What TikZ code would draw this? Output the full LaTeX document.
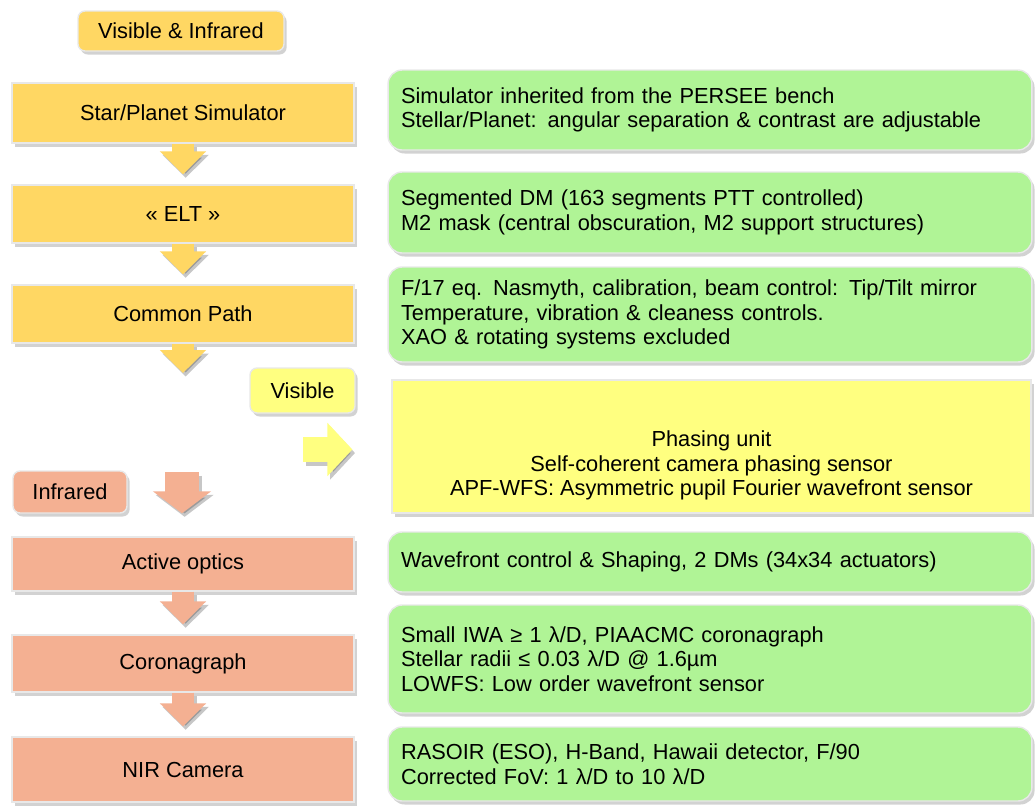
\documentclass[tikz,border=0pt]{standalone}
\usepackage{fontspec}
\setmainfont{Liberation Sans}
\usetikzlibrary{shadows,arrows.meta}
\definecolor{goldbox}{HTML}{FFD763}
\definecolor{salmonbox}{HTML}{F4B092}
\definecolor{greenbox}{HTML}{B0F496}
\definecolor{lemonbox}{HTML}{FFFF80}
\tikzset{
  boxbase/.style={draw=black!9, line width=0.8pt, inner sep=0pt,
    drop shadow={shadow xshift=1.5pt, shadow yshift=-2pt, opacity=0.35},
    font=\fontsize{12.4}{14}\selectfont},
  stage/.style={boxbase, fill=#1, minimum width=6.84cm, align=center},
  tag/.style={boxbase, fill=#1, rounded corners=4pt, align=center},
  info/.style={boxbase, fill=greenbox, rounded corners=8pt,
    text width=12.36cm, inner xsep=0.26cm, align=left},
  downarrow/.style={draw=#1, line width=0.46cm,
    -{Triangle[width=0.9cm,length=0.46cm]}, shorten >=0.2cm},
  arrowshadow/.style={draw=black, opacity=0.22,
    transform canvas={shift={(1.5pt,-2pt)}}}
}
\begin{document}
\begin{tikzpicture}[x=0.02cm,y=-0.02cm]
\fill[white] (0,0) rectangle (1035,806);
\useasboundingbox (0,0) rectangle (1035,806);

% left column
\node[tag=goldbox, minimum width=4.12cm, minimum height=0.8cm] (both) at (181,31) {Visible \& Infrared};
\node[stage=goldbox, minimum height=1.2cm] (sim) at (183,113) {Star/Planet Simulator};
\node[stage=goldbox, minimum height=1.16cm] (elt) at (183,214) {«~ELT~»};
\node[stage=goldbox, minimum height=1.16cm] (common) at (183,314) {Common Path};
\node[tag=lemonbox, minimum width=2.1cm, minimum height=0.9cm] (vis) at (302.5,390.5) {Visible};
\node[tag=salmonbox, minimum width=2.28cm, minimum height=0.84cm] (ir) at (70,492) {Infrared};
\node[stage=salmonbox, minimum height=1.08cm] (active) at (183,564) {Active optics};
\node[stage=salmonbox, minimum height=1.14cm] (corono) at (183,663.5) {Coronagraph};
\node[stage=salmonbox, minimum height=1.3cm] (nir) at (183,769.5) {NIR Camera};

% right column
\node[info, minimum height=1.6cm] (dsim) at (710,110)
  {Simulator inherited from the PERSEE bench\\
   Stellar/Planet: angular separation \& contrast are adjustable};
\node[info, minimum height=1.62cm] (delt) at (710,212.5)
  {Segmented DM (163 segments PTT controlled)\\
   M2 mask (central obscuration, M2 support structures)};
\node[info, minimum height=1.9cm] (dcommon) at (710,314.5)
  {F/17 eq. Nasmyth, calibration, beam control: Tip/Tilt mirror\\
   Temperature, vibration \& cleaness controls.\\
   XAO \& rotating systems excluded};
\node[boxbase, fill=lemonbox, minimum width=12.78cm, minimum height=2.66cm] (phase) at (711.5,446.5) {};
\node[font=\fontsize{12.4}{14}\selectfont, align=center] (phasetext) at ([yshift=-0.38cm]phase.center)
  {Phasing unit\\
   Self-coherent camera phasing sensor\\
   APF-WFS: Asymmetric pupil Fourier wavefront sensor};
\node[info, minimum height=1.2cm] (dactive) at (710,562)
  {Wavefront control \& Shaping, 2 DMs (34x34 actuators)};
\node[info, minimum height=2.16cm] (dcorono) at (710,659)
  {Small IWA ≥ 1 λ/D, PIAACMC coronagraph\\
   Stellar radii ≤ 0.03 λ/D @ 1.6µm\\
   LOWFS: Low order wavefront sensor};
\node[info, minimum height=1.48cm] (dnir) at (710,764)
  {RASOIR (ESO), H-Band, Hawaii detector, F/90\\
   Corrected FoV: 1 λ/D to 10 λ/D};

% block arrows
\coordinate (vstart) at (303,449.5);
\coordinate (irstart) at (182,472);
\coordinate (cend) at (183,373);
\foreach \a/\b/\c in {sim/elt/goldbox, elt/common/goldbox, active/corono/salmonbox, corono/nir/salmonbox}{
  \draw[downarrow=\c, arrowshadow] (\a.south) -- (\b.north);
  \draw[downarrow=\c] (\a.south) -- (\b.north);
}
\draw[downarrow=goldbox, arrowshadow, shorten >=0pt] (common.south) -- (cend);
\draw[downarrow=goldbox, shorten >=0pt] (common.south) -- (cend);
\draw[downarrow=lemonbox, arrowshadow, line width=0.5cm,
  -{Triangle[width=1.04cm,length=0.5cm]}, shorten >=0.78cm] (vstart) -- (vstart -| phase.west);
\draw[downarrow=lemonbox, line width=0.5cm,
  -{Triangle[width=1.04cm,length=0.5cm]}, shorten >=0.78cm] (vstart) -- (vstart -| phase.west);
\draw[downarrow=salmonbox, arrowshadow, line width=0.68cm,
  -{Triangle[width=1.14cm,length=0.44cm]}, shorten >=0.46cm] (irstart) -- (irstart |- active.north);
\draw[downarrow=salmonbox, line width=0.68cm,
  -{Triangle[width=1.14cm,length=0.44cm]}, shorten >=0.46cm] (irstart) -- (irstart |- active.north);
\end{tikzpicture}
\end{document}
